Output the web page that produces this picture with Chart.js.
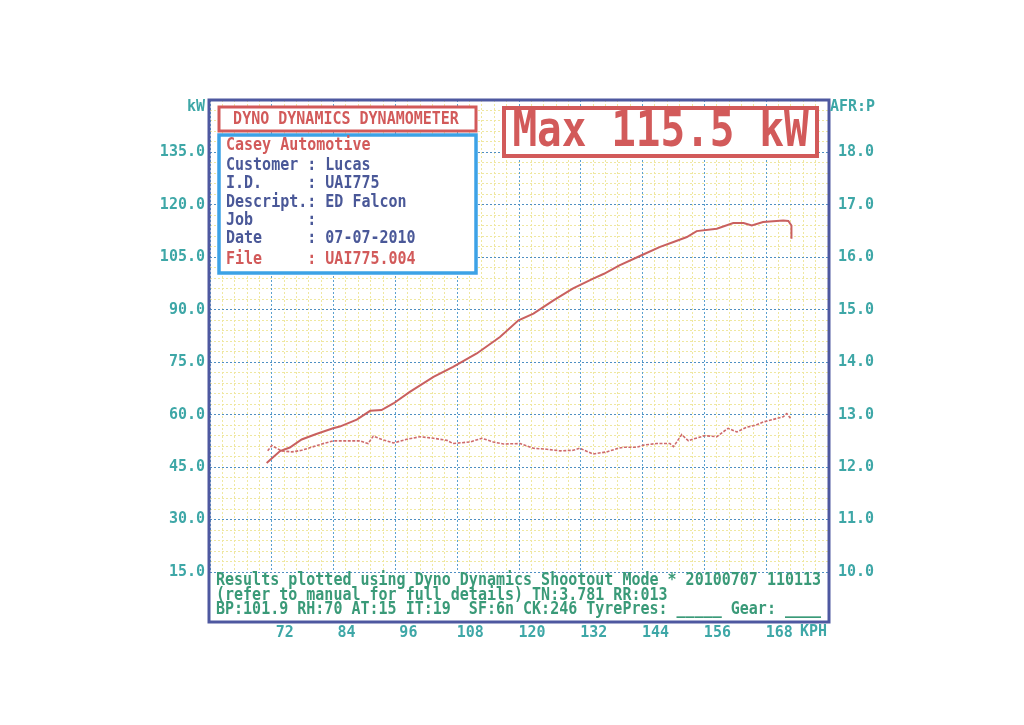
<!DOCTYPE html>
<html>
<head>
<meta charset="utf-8">
<script src="https://cdn.jsdelivr.net/npm/chart.js@4.4.1/dist/chart.umd.min.js"></script>
<style>
  html, body { margin: 0; padding: 0; background: #ffffff; }
  #wrap { width: 1024px; height: 725px; position: relative; }
</style>
</head>
<body>
<div id="wrap"><canvas id="c" width="1024" height="725"></canvas></div>
<script>
// ---- data ----
const powerSpeed = [71.0, 72.3, 73.6, 75.5, 77.8, 80.5, 83.9, 85.2, 88.5, 91.1, 93.3, 95.6, 98.8, 103.4, 107.2, 111.8, 116.3, 119.9, 122.8, 126.7, 130.5, 134.4, 136.5, 139.5, 143.8, 147.4, 150.0, 152.6, 154.5, 158.4, 161.6, 163.6, 165.2, 167.4, 171.3, 172.3, 172.9, 172.9];
const powerKW    = [46.2, 47.9, 49.6, 50.6, 52.9, 54.4, 56.1, 56.6, 58.6, 61.1, 61.3, 63.2, 66.5, 70.8, 73.7, 77.5, 82.2, 87.0, 88.9, 92.7, 96.1, 98.9, 100.3, 102.7, 105.6, 108.0, 109.4, 110.8, 112.5, 113.2, 114.8, 114.8, 114.1, 115.1, 115.5, 115.4, 114.1, 110.3];

const afrSpeed = [71.2, 72.0, 73.9, 75.9, 77.8, 79.4, 81.7, 83.9, 85.2, 89.1, 90.7, 91.7, 93.3, 95.6, 98.2, 100.8, 103.4, 106.0, 107.2, 110.5, 112.8, 115.0, 117.0, 120.2, 122.8, 125.4, 128.0, 130.5, 131.8, 134.4, 137.0, 139.3, 140.3, 142.9, 144.2, 146.7, 149.3, 150.0, 151.6, 152.9, 154.0, 156.1, 158.4, 160.6, 162.3, 164.2, 166.0, 167.4, 169.4, 171.3, 172.0, 172.9];
const afrValues = [12.31, 12.41, 12.31, 12.29, 12.32, 12.37, 12.44, 12.50, 12.50, 12.50, 12.45, 12.59, 12.53, 12.46, 12.53, 12.58, 12.55, 12.51, 12.45, 12.48, 12.55, 12.48, 12.44, 12.45, 12.36, 12.34, 12.31, 12.32, 12.36, 12.25, 12.29, 12.36, 12.38, 12.38, 12.42, 12.45, 12.45, 12.39, 12.62, 12.50, 12.54, 12.60, 12.58, 12.74, 12.67, 12.76, 12.80, 12.86, 12.91, 12.96, 13.02, 12.91];

const kwTicks  = [15, 30, 45, 60, 75, 90, 105, 120, 135];
const afrTicks = [10, 11, 12, 13, 14, 15, 16, 17, 18];
const kphTicks = [72, 84, 96, 108, 120, 132, 144, 156, 168];

const infoLines = [
  ["Casey Automotive", "red"],
  ["Customer : Lucas", "blue"],
  ["I.D.     : UAI775", "blue"],
  ["Descript.: ED Falcon", "blue"],
  ["Job      :", "blue"],
  ["Date     : 07-07-2010", "blue"],
  ["File     : UAI775.004", "red"]
];
const footerLines = [
  "Results plotted using Dyno Dynamics Shootout Mode * 20100707 110113",
  "(refer to manual for full details) TN:3.781 RR:013",
  "BP:101.9 RH:70 AT:15 IT:19  SF:6n CK:246 TyrePres: _____ Gear: ____"
];
const maxText = "Max 115.5 kW";
const titleText = "DYNO DYNAMICS DYNAMOMETER";

// ---- styles ----
const MONO = '"DejaVu Sans Mono", "Liberation Mono", monospace';
const RED = '#d25a5a';
const TEAL = '#3ea7a7';
const INFO_BLUE = '#4a5898';
const FOOT_GREEN = '#3a9a78';
const FRAME = '#4e58a0';
const MAJOR = '#5aa0cf';
const MINOR = '#efe7a0';

const powerPts = powerSpeed.map((s, i) => ({x: s, y: powerKW[i]}));
const afrPts = afrSpeed.map((s, i) => ({x: s, y: afrValues[i]}));

function txt(ctx, s, x, y, px, color, align, sy) {
  ctx.save();
  ctx.translate(x, y);
  ctx.scale(1, sy || 1);
  ctx.font = 'bold ' + px + 'px ' + MONO;
  ctx.fillStyle = color;
  ctx.textAlign = align || 'left';
  ctx.textBaseline = 'middle';
  ctx.fillText(s, 0, 0);
  ctx.restore();
}

const overlay = {
  id: 'overlay',
  afterDraw(chart) {
    const ctx = chart.ctx;
    const a = chart.chartArea;
    ctx.save();
    // outer frame
    ctx.strokeStyle = FRAME;
    ctx.lineWidth = 3;
    ctx.strokeRect(a.left - 1, a.top, a.right - a.left + 2, 622 - a.top);

    // title box
    ctx.fillStyle = '#fff';
    ctx.fillRect(219, 107, 257, 24);
    ctx.strokeStyle = RED; ctx.lineWidth = 3;
    ctx.strokeRect(219, 107, 257, 24);
    txt(ctx, titleText, 346, 119.5, 15, RED, 'center', 1.15);

    // info box
    ctx.fillStyle = '#fff';
    ctx.fillRect(219, 135, 257, 138);
    ctx.strokeStyle = '#3ca2e6'; ctx.lineWidth = 3.5;
    ctx.strokeRect(219, 135, 257, 138);
    const ys = [146, 166, 184, 202.5, 221, 239, 260];
    infoLines.forEach((l, i) => {
      txt(ctx, l[0], 226, ys[i], 15, l[1] === 'red' ? RED : INFO_BLUE, 'left', 1.15);
    });

    // max box
    ctx.fillStyle = '#fff';
    ctx.fillRect(504, 108, 313, 48);
    ctx.strokeStyle = RED; ctx.lineWidth = 4;
    ctx.strokeRect(504, 108, 313, 48);
    txt(ctx, maxText, 660.5, 132.5, 41, RED, 'center', 1.22);

    // footer
    const fy = [580.5, 595.5, 610];
    footerLines.forEach((l, i) => txt(ctx, l, 216, fy[i], 15, FOOT_GREEN, 'left', 1.15));

    // axis unit labels
    txt(ctx, 'kW', 205, 107, 15, TEAL, 'right', 1.1);
    txt(ctx, 'AFR:P', 830, 107, 15, TEAL, 'left', 1.1);
    txt(ctx, 'KPH', 800, 632, 15, TEAL, 'left', 1.1);
    ctx.restore();
  }
};

const tickFont = { family: MONO, size: 15, weight: 'bold' };

new Chart(document.getElementById('c'), {
  type: 'line',
  data: {
    datasets: [
      { label: 'Power (kW)', data: powerPts, yAxisID: 'y', xAxisID: 'x',
        borderColor: '#c9605f', borderWidth: 2, pointRadius: 0, tension: 0, fill: false },
      { label: 'AFR', data: afrPts, yAxisID: 'y2', xAxisID: 'x',
        borderColor: '#cf6b6b', borderWidth: 1.6, borderDash: [3, 1.5], pointRadius: 0, tension: 0, fill: false }
    ]
  },
  options: {
    responsive: false,
    animation: false,
    devicePixelRatio: 1,
    layout: { padding: { top: 100, left: 0, right: 0, bottom: 0 } },
    plugins: { legend: { display: false }, tooltip: { enabled: false }, title: { display: false } },
    scales: {
      xMinor: {
        type: 'linear', position: 'bottom', min: 60, max: 180,
        ticks: { display: false, stepSize: 2.4 },
        grid: { color: MINOR, lineWidth: 1, drawTicks: false, z: -2 },
        border: { display: false, dash: [2, 2] },
        afterFit(s) { s.height = 0; }
      },
      yMinor: {
        type: 'linear', position: 'left', min: 15, max: 150,
        ticks: { display: false, stepSize: 3 },
        grid: { color: MINOR, lineWidth: 1, drawTicks: false, z: -2 },
        border: { display: false, dash: [2, 2] },
        afterFit(s) { s.width = 0; }
      },
      x: {
        type: 'linear', position: 'bottom', min: 60, max: 180,
        afterBuildTicks(s) { s.ticks = [60].concat(kphTicks, [180]).map(v => ({value: v})); },
        ticks: {
          autoSkip: false, maxRotation: 0, labelOffset: 13, padding: 52,
          color: TEAL, font: tickFont,
          callback: v => kphTicks.includes(v) ? String(v) : ''
        },
        grid: { color: MAJOR, lineWidth: 1, drawTicks: false },
        border: { display: false, dash: [2, 2] },
        afterFit(s) { s.height = 153; }
      },
      y: {
        type: 'linear', position: 'left', min: 15, max: 150,
        afterBuildTicks(s) { s.ticks = kwTicks.concat([150]).map(v => ({value: v})); },
        ticks: {
          autoSkip: false, padding: 5, color: TEAL, font: tickFont,
          callback: v => kwTicks.includes(v) ? v.toFixed(1) : ''
        },
        grid: { color: '#4f8fc2', lineWidth: 1, drawTicks: false },
        border: { display: false, dash: [2, 2] },
        afterFit(s) { s.width = 210; }
      },
      y2: {
        type: 'linear', position: 'right', min: 10, max: 19,
        afterBuildTicks(s) { s.ticks = afrTicks.concat([19]).map(v => ({value: v})); },
        ticks: {
          autoSkip: false, padding: 10, color: TEAL, font: tickFont,
          callback: v => afrTicks.includes(v) ? v.toFixed(1) : ''
        },
        grid: { display: false, drawTicks: false },
        border: { display: false },
        afterFit(s) { s.width = 196; }
      }
    }
  },
  plugins: [overlay]
});
</script>
</body>
</html>
